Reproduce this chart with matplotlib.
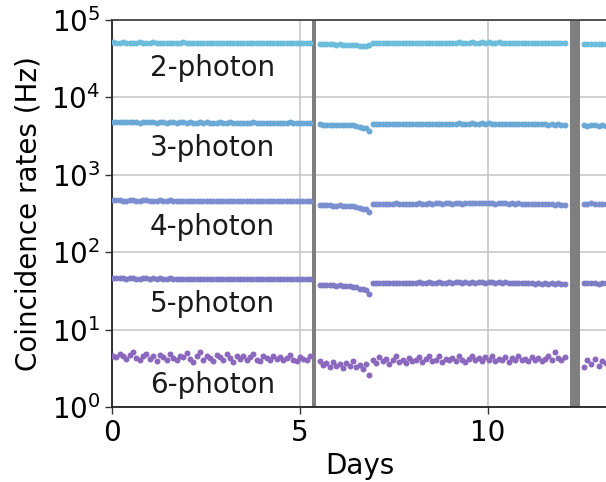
import numpy as np
import matplotlib
matplotlib.use("Agg")
import matplotlib.pyplot as plt

# ---- measured coincidence rates (Hz), three acquisition runs separated by pauses ----
labels = ["2-photon", "3-photon", "4-photon", "5-photon", "6-photon"]
colors = ["#6cbddb", "#6aa9d6", "#7a8fcf", "#7f7cc6", "#8b67be"]

run_windows = [(0.03, 5.27), (5.53, 12.05), (12.55, 13.15)]   # days
pauses = [(5.32, 5.44), (12.18, 12.45)]                        # days

rate2 = [
    [51200, 50900, 51000, 51400, 50800, 51100, 50700, 51000, 51300, 50900,
     50600, 51000, 51200, 50800, 50900, 51100, 50500, 50800, 51000, 50700,
     50900, 51200, 50600, 50800, 50400, 50700, 50900, 50500, 50800, 50600,
     50300, 50700, 50500, 50900, 50400, 50600, 50800, 50500, 50300, 50600,
     50700, 50400, 50200, 50600, 50500, 50800, 50300, 50500, 50700, 50400,
     50600, 50200, 50500, 50800, 50400, 50600, 50300, 50700, 50500, 50400],
    [48800, 48500, 48300, 48600, 48200, 48000, 48300, 47900, 48100, 47800,
     47700, 47300, 46600, 46200, 45900, 46800, 50200, 50600, 50400, 50800,
     50500, 50300, 50700, 50600, 50400, 50800, 50500, 50700, 50400, 50600,
     50900, 50500, 50700, 50800, 50600, 50900, 51000, 50700, 50900, 51100,
     50800, 51000, 51200, 50900, 51100, 51000, 51300, 50900, 51100, 51200,
     51000, 51300, 51100, 50900, 51200, 51000, 51100, 50800, 51000, 50900,
     51100, 50700, 50900, 50600, 50800, 50500, 50700, 50400, 50600, 50300,
     50500, 50200, 50400, 50100, 50300],
    [48600, 48300, 48700, 48400, 48200, 48500, 48300],
]

rate3 = [
    [4790, 4760, 4810, 4770, 4740, 4780, 4800, 4750, 4730, 4770,
     4790, 4740, 4760, 4720, 4780, 4750, 4730, 4770, 4740, 4710,
     4760, 4740, 4720, 4750, 4700, 4730, 4760, 4710, 4740, 4720,
     4690, 4730, 4750, 4700, 4720, 4740, 4690, 4710, 4730, 4700,
     4680, 4720, 4740, 4700, 4690, 4730, 4710, 4680, 4720, 4700,
     4730, 4690, 4710, 4740, 4700, 4680, 4720, 4710, 4690, 4730],
    [4480, 4450, 4430, 4460, 4420, 4410, 4440, 4390, 4410, 4370,
     4350, 4280, 4150, 4060, 3980, 3700, 4500, 4530, 4480, 4540,
     4510, 4470, 4520, 4550, 4490, 4530, 4500, 4540, 4480, 4520,
     4560, 4510, 4540, 4570, 4520, 4550, 4580, 4530, 4560, 4590,
     4540, 4570, 4600, 4550, 4580, 4560, 4610, 4570, 4590, 4620,
     4570, 4600, 4580, 4550, 4590, 4560, 4580, 4530, 4560, 4540,
     4570, 4520, 4550, 4500, 4530, 4480, 4510, 4470, 4500, 4460,
     4490, 4440, 4470, 4430, 4450],
    [4360, 4330, 4380, 4340, 4310, 4350, 4320],
]

rate4 = [
    [468, 466, 470, 465, 463, 467, 469, 464, 462, 466,
     468, 463, 465, 461, 467, 464, 462, 466, 463, 460,
     465, 463, 461, 464, 459, 462, 465, 460, 463, 461,
     458, 462, 464, 459, 461, 463, 458, 460, 462, 459,
     457, 461, 463, 459, 458, 462, 460, 457, 461, 459,
     462, 458, 460, 463, 459, 457, 461, 460, 458, 462],
    [408, 404, 401, 405, 399, 398, 402, 396, 398, 393,
     390, 382, 370, 362, 356, 334, 420, 424, 418, 425,
     421, 417, 423, 426, 419, 424, 420, 425, 418, 422,
     427, 421, 425, 428, 422, 426, 429, 423, 427, 430,
     424, 428, 431, 425, 429, 427, 432, 426, 430, 433,
     427, 431, 428, 425, 430, 426, 429, 423, 427, 424,
     428, 421, 425, 419, 423, 417, 421, 415, 419, 414,
     418, 412, 416, 410, 413],
    [425, 422, 428, 420, 424, 419, 423],
]

rate5 = [
    [46.2, 45.8, 46.4, 45.9, 45.5, 46.0, 46.3, 45.7, 45.4, 45.9,
     46.1, 45.5, 45.8, 45.2, 46.0, 45.6, 45.3, 45.8, 45.4, 45.0,
     45.7, 45.4, 45.1, 45.5, 44.9, 45.3, 45.7, 45.0, 45.4, 45.1,
     44.7, 45.2, 45.5, 44.9, 45.1, 45.4, 44.7, 45.0, 45.3, 44.9,
     44.6, 45.1, 45.4, 44.9, 44.7, 45.2, 45.0, 44.6, 45.1, 44.8,
     45.2, 44.7, 45.0, 45.3, 44.8, 44.5, 45.0, 44.9, 44.6, 45.1],
    [38.2, 37.8, 37.4, 37.9, 37.2, 37.0, 37.4, 36.8, 37.0, 36.4,
     36.0, 35.1, 33.8, 33.0, 32.4, 29.0, 39.8, 40.2, 39.5, 40.3,
     39.9, 39.4, 40.1, 40.4, 39.7, 40.2, 39.8, 40.4, 39.6, 40.0,
     40.6, 39.9, 40.3, 40.7, 40.0, 40.4, 40.8, 40.1, 40.5, 40.9,
     40.2, 40.6, 41.0, 40.3, 40.7, 40.5, 41.1, 40.4, 40.8, 41.2,
     40.4, 40.9, 40.6, 40.2, 40.7, 40.3, 40.6, 39.9, 40.4, 40.0,
     40.5, 39.7, 40.2, 39.5, 40.0, 39.3, 39.8, 39.1, 39.6, 39.0,
     39.5, 38.9, 39.4, 38.8, 39.2],
    [40.2, 39.6, 40.5, 39.8, 39.2, 40.0, 39.5],
]

rate6 = [
    [4.6, 4.4, 4.8, 4.5, 4.2, 4.7, 5.1, 4.3, 4.1, 4.6,
     4.9, 4.2, 4.5, 3.9, 4.7, 4.4, 4.0, 4.8, 4.3, 4.1,
     4.6, 4.4, 5.0, 4.2, 3.8, 4.5, 5.2, 4.0, 4.6, 4.3,
     3.9, 4.7, 4.4, 4.1, 4.9, 4.3, 3.8, 4.6, 4.2, 4.5,
     4.0, 4.4, 4.8, 4.1, 3.9, 4.5, 4.3, 4.0, 4.6, 4.2,
     4.4, 4.0, 4.3, 4.7, 4.1, 3.9, 4.4, 4.2, 4.0, 4.5],
    [3.9, 3.5, 3.7, 3.3, 3.8, 3.4, 3.6, 3.2, 3.7, 3.4,
     3.9, 3.3, 3.5, 3.1, 3.6, 2.6, 4.1, 3.7, 4.4, 3.9,
     4.2, 3.6, 4.0, 4.5, 3.8, 4.1, 3.7, 4.3, 3.9, 4.0,
     4.4, 3.8, 4.2, 4.6, 3.9, 4.1, 4.5, 3.8, 4.2, 4.0,
     4.3, 3.9, 4.5, 4.1, 3.8, 4.2, 4.6, 4.0, 4.3, 3.9,
     4.4, 4.1, 4.5, 3.9, 4.2, 4.0, 4.4, 3.8, 4.3, 4.1,
     4.5, 4.0, 4.2, 3.9, 4.4, 4.1, 4.3, 3.9, 4.2, 4.6,
     4.1, 5.2, 4.3, 4.0, 4.4],
    [3.3, 4.0, 3.6, 4.2, 3.4, 3.9, 3.7],
]

all_rates = [rate2, rate3, rate4, rate5, rate6]

# label baselines (log10 of rate) placed under each trace
label_log_y = [4.28, 3.24, 2.22, 1.23, 0.18]
label_x = 2.67

plt.rcParams["font.family"] = "DejaVu Sans"
plt.rcParams["mathtext.fontset"] = "dejavusans"

fig = plt.figure(figsize=(6.06, 4.82), dpi=100)
ax = fig.add_axes([0.1848, 0.1556, 0.8185, 0.803])

ax.set_yscale("log")
ax.set_ylim(1, 1e5)
ax.set_xlim(0, 13.2)

ax.grid(True, which="major", color="#c4c4c4", linewidth=1.1, zorder=0)
ax.minorticks_off()
ax.set_axisbelow(True)

for lo, hi in pauses:
    ax.axvspan(lo, hi, color="#7f7f7f", lw=0, zorder=2)

for series, col in zip(all_rates, colors):
    for (t0, t1), vals in zip(run_windows, series):
        t = np.linspace(t0, t1, len(vals))
        ax.plot(t, vals, linestyle="none", marker="o", markersize=4.3,
                markeredgewidth=0, color=col, zorder=3)

for lab, ly in zip(labels, label_log_y):
    ax.text(label_x, 10 ** ly, lab, ha="center", va="baseline",
            fontsize=20, color="#1a1a1a", zorder=4)

ax.set_xticks([0, 5, 10])
ax.set_yticks([1, 10, 100, 1e3, 1e4, 1e5])
ax.tick_params(axis="both", labelsize=20, length=5, width=1.0, color="#333333")
ax.set_xlabel("Days", fontsize=20, labelpad=4)
ax.set_ylabel("Coincidence rates (Hz)", fontsize=20, labelpad=6)

for side in ("left", "bottom"):
    ax.spines[side].set_color("#222222")
    ax.spines[side].set_linewidth(1.3)
ax.spines["top"].set_color("#444444")
ax.spines["top"].set_linewidth(1.3)
ax.spines["right"].set_visible(False)

fig.savefig("out.png", dpi=100)
